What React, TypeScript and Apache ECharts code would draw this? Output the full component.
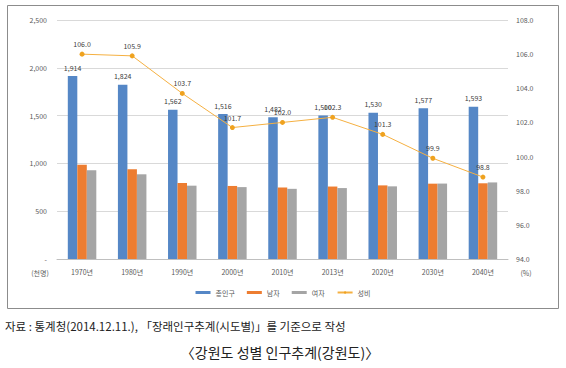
import React, { useEffect, useRef } from "react";
import * as echarts from "echarts";

const categories = ["1970년", "1980년", "1990년", "2000년", "2010년", "2013년", "2020년", "2030년", "2040년"];
const total = [1914, 1824, 1562, 1516, 1482, 1500, 1530, 1577, 1593];
const male = [985, 938, 795, 764, 748, 758, 770, 788, 792];
const female = [929, 886, 767, 752, 734, 742, 760, 789, 801];
const sexRatio = [106.0, 105.9, 103.7, 101.7, 102.0, 102.3, 101.3, 99.9, 98.8];
const seriesNames = ["총인구", "남자", "여자", "성비"];
const leftTicks = { min: 0, max: 2500, interval: 500 };
const rightTicks = { min: 94, max: 108, interval: 2 };
const sourceText = "자료 : 통계청(2014.12.11.), 「장래인구추계(시도별)」를 기준으로 작성";
const titleText = "〈강원도 성별 인구추계(강원도)〉";

const FONT = "'Noto Sans CJK KR', 'Liberation Sans', sans-serif";

export default function App() {
  const ref = useRef<HTMLDivElement>(null);
  useEffect(() => {
    document.body.style.margin = "0";
    const chart = echarts.init(ref.current!, null, { renderer: "svg" });
    const fmt = (v: number) => (v === 0 ? "-" : v.toLocaleString("en-US"));
    chart.setOption({
      animation: false,
      backgroundColor: "#ffffff",
      textStyle: { fontFamily: FONT },
      grid: { left: 57, right: 58, top: 20, bottom: 109 },
      legend: {
        top: 284,
        left: "center",
        itemWidth: 15,
        itemHeight: 3,
        itemGap: 12,
        textStyle: { fontSize: 7, color: "#595959", fontFamily: FONT },
        data: [
          { name: seriesNames[0], icon: "rect" },
          { name: seriesNames[1], icon: "rect" },
          { name: seriesNames[2], icon: "rect" },
          { name: seriesNames[3] },
        ],
      },
      xAxis: {
        type: "category",
        data: categories,
        axisTick: { show: false },
        axisLine: { lineStyle: { color: "#BFBFBF" } },
        axisLabel: { fontSize: 7, color: "#595959", margin: 9 },
      },
      yAxis: [
        {
          type: "value",
          ...leftTicks,
          axisLine: { show: false },
          axisTick: { show: false },
          axisLabel: { fontSize: 7, color: "#595959", formatter: fmt, margin: 10 },
          splitLine: { lineStyle: { color: "#D9D9D9" } },
        },
        {
          type: "value",
          ...rightTicks,
          axisLine: { show: false },
          axisTick: { show: false },
          axisLabel: { fontSize: 7, color: "#595959", formatter: (v: number) => v.toFixed(1), margin: 8 },
          splitLine: { show: false },
        },
      ],
      series: [
        {
          name: seriesNames[0],
          type: "bar",
          data: total,
          barWidth: 9.5,
          barGap: "0%",
          itemStyle: { color: "#5587C6" },
          label: {
            show: true,
            position: "top",
            distance: 5,
            fontSize: 7,
            color: "#404040",
            formatter: (p: any) => p.value.toLocaleString("en-US"),
          },
        },
        { name: seriesNames[1], type: "bar", data: male, barWidth: 9.5, barGap: "0%", itemStyle: { color: "#ED7D31" } },
        { name: seriesNames[2], type: "bar", data: female, barWidth: 9.5, barGap: "0%", itemStyle: { color: "#A5A5A5" } },
        {
          name: seriesNames[3],
          type: "line",
          yAxisIndex: 1,
          data: sexRatio,
          symbol: "circle",
          symbolSize: 5,
          lineStyle: { color: "#F5B041", width: 1 },
          itemStyle: { color: "#EFA21F" },
          label: {
            show: true,
            position: "top",
            distance: 4,
            fontSize: 7,
            color: "#404040",
            formatter: (p: any) => p.value.toFixed(1),
          },
        },
      ],
      graphic: [
        {
          type: "rect",
          shape: { x: 7.5, y: 5.5, width: 551, height: 303 },
          style: { fill: "none", stroke: "#8C8C8C", lineWidth: 1 },
          silent: true,
        },
        {
          type: "text",
          x: 40,
          y: 273,
          style: { text: "(천명)", fontSize: 7, fill: "#595959", fontFamily: FONT, align: "center", verticalAlign: "middle" },
        },
        {
          type: "text",
          x: 526,
          y: 273,
          style: { text: "(%)", fontSize: 7, fill: "#595959", fontFamily: FONT, align: "center", verticalAlign: "middle" },
        },
        {
          type: "text",
          x: 5,
          y: 326,
          style: { text: sourceText, fontSize: 11.5, fill: "#222222", fontFamily: FONT, align: "left", verticalAlign: "middle" },
        },
        {
          type: "text",
          x: 280,
          y: 352,
          style: { text: titleText, fontSize: 14, fill: "#222222", fontFamily: FONT, align: "center", verticalAlign: "middle" },
        },
      ],
    });
    return () => chart.dispose();
  }, []);
  return <div ref={ref} style={{ width: 566, height: 368 }} />;
}
